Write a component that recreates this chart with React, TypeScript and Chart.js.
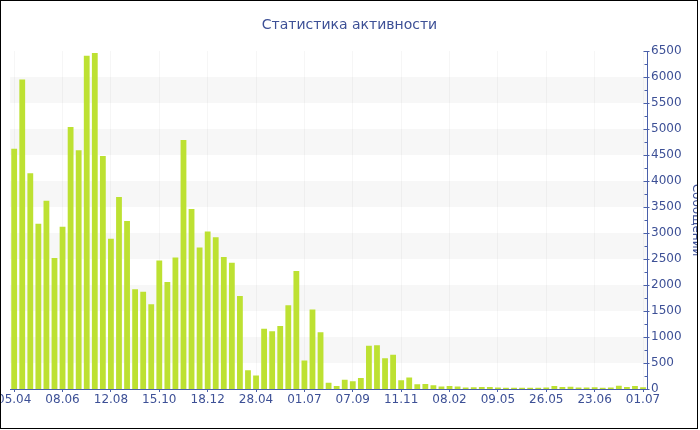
import React, { useEffect, useRef } from 'react';
import { Chart, registerables } from 'chart.js';

Chart.register(...registerables);

const tickLabels = ['05.04', '08.06', '12.08', '15.10', '18.12', '28.04', '01.07', '07.09', '11.11', '08.02', '09.05', '26.05', '23.06', '01.07'];

const messages = [
  4620, 5950, 4150, 3180, 3620, 2520, 3120, 5040, 4590, 6410,
  6460, 4480, 2890, 3690, 3230, 1920, 1870, 1630, 2470, 2060,
  2530, 4790, 3460, 2720, 3030, 2920, 2540, 2430, 1790, 360,
  260, 1160, 1110, 1210, 1610, 2270, 550, 1530, 1090, 120,
  60, 180, 150, 210, 830, 840, 590, 660, 170, 220,
  90, 95, 70, 50, 60, 50, 30, 32, 38, 38,
  30, 25, 22, 25, 25, 22, 28, 58, 40, 45,
  30, 30, 35, 25, 30, 64, 40, 58, 35,
];

const categories = messages.map((_, i) => (i % 6 === 0 ? tickLabels[i / 6] ?? '' : ''));

const TEXT = '#3d5096';
const AXIS = '#4a60aa';

export default function App() {
  const ref = useRef<HTMLCanvasElement>(null);

  useEffect(() => {
    document.body.style.margin = '0';
    if (!ref.current) return;

    const bands = {
      id: 'bands',
      beforeDraw(chart: any) {
        const { ctx, chartArea: a, scales } = chart;
        const y = scales.y;
        ctx.save();
        ctx.fillStyle = '#f7f7f7';
        y.ticks.forEach((t: any) => {
          if (t.value % 1000 === 500 && t.value + 500 <= y.max) {
            const top = y.getPixelForValue(t.value + 500);
            const bot = y.getPixelForValue(t.value);
            ctx.fillRect(a.left, top, a.right - a.left, bot - top);
          }
        });
        ctx.restore();
      },
    };

    const yTicks = {
      id: 'yTicks',
      afterDraw(chart: any) {
        const { ctx, scales } = chart;
        const y = scales.y;
        const x = Math.round(y.left) + 0.5;
        ctx.save();
        ctx.strokeStyle = AXIS;
        ctx.lineWidth = 1;
        ctx.beginPath();
        y.ticks.forEach((t: any) => {
          const py = Math.round(y.getPixelForValue(t.value)) + 0.5;
          const major = t.value % 500 === 0;
          ctx.moveTo(x - (major ? 4 : 3), py);
          ctx.lineTo(x + (major ? 2 : 0), py);
        });
        ctx.stroke();
        ctx.restore();
      },
    };

    const chart = new Chart(ref.current, {
      type: 'bar',
      data: {
        labels: categories,
        datasets: [
          {
            data: messages,
            backgroundColor: '#bde132',
            borderWidth: 0,
            barPercentage: 0.72,
            categoryPercentage: 1,
          },
        ],
      },
      options: {
        animation: false,
        responsive: false,
        font: { family: 'DejaVu Sans' },
        layout: { padding: { left: 0, right: 0, top: 0, bottom: 19.6 } },
        plugins: {
          legend: { display: false },
          tooltip: { enabled: false },
          title: {
            display: true,
            text: 'Статистика активности',
            color: TEXT,
            font: { family: 'DejaVu Sans', size: 14, weight: 'normal' },
            padding: { top: 15.6, bottom: 17.6 },
          },
        },
        scales: {
          x: {
            ticks: {
              autoSkip: false,
              maxRotation: 0,
              minRotation: 0,
              padding: 1,
              color: TEXT,
              font: { family: 'DejaVu Sans', size: 12 },
              callback: (_v: any, i: number) => categories[i],
            },
            grid: {
              offset: false,
              color: (c: any) => (c.index % 6 === 0 ? 'rgba(0,0,0,0.035)' : 'transparent'),
              tickColor: (c: any) => (c.index % 6 === 0 ? AXIS : 'transparent'),
              tickLength: 3,
            },
            border: { color: AXIS },
          },
          y: {
            position: 'right',
            min: 0,
            max: 6500,
            ticks: {
              stepSize: 250,
              autoSkip: false,
              padding: 4,
              color: TEXT,
              font: { family: 'DejaVu Sans', size: 12 },
              callback: (v: any) => (Number(v) % 500 === 0 ? String(v) : ''),
            },
            grid: { display: false, drawTicks: false },
            border: { display: true, color: AXIS },
            title: {
              display: true,
              text: 'Сообщений',
              color: TEXT,
              font: { family: 'DejaVu Sans', size: 12 },
              padding: { top: 0, bottom: 3 },
            },
          },
        },
      },
      plugins: [bands, yTicks],
    } as any);

    return () => chart.destroy();
  }, []);

  return (
    <div
      style={{
        position: 'relative',
        width: 698,
        height: 429,
        border: '1px solid #000',
        boxSizing: 'border-box',
        overflow: 'hidden',
        background: '#fff',
      }}
    >
      <div style={{ position: 'absolute', left: -5, top: 0, width: 707, height: 427 }}>
        <canvas ref={ref} width={707} height={427} style={{ display: 'block' }} />
      </div>
    </div>
  );
}
